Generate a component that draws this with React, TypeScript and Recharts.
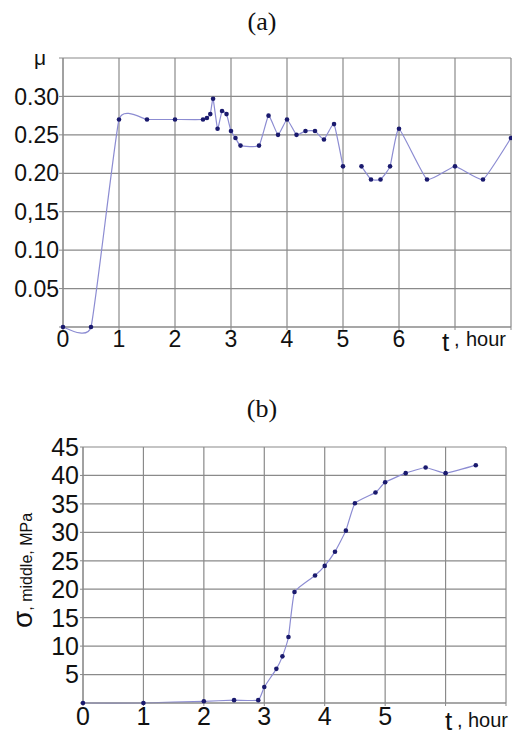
import React from "react";
import { LineChart, Line, XAxis, YAxis, CartesianGrid } from "recharts";

// ---- Chart (a): friction coefficient mu vs time ----
const muTime = [0, 0.5, 1, 1.5, 2, 2.5, 2.57, 2.63, 2.68, 2.76, 2.84, 2.92, 3.0, 3.08, 3.17, 3.5, 3.67, 3.84, 4.0, 4.17, 4.33, 4.5, 4.66, 4.84, 5.0, 5.17, 5.33, 5.5, 5.67, 5.84, 6.0, 6.5, 7.0, 7.5, 8.0];
const muValues: (number | null)[] = [0, 0, 0.27, 0.27, 0.27, 0.27, 0.272, 0.277, 0.297, 0.258, 0.281, 0.277, 0.255, 0.246, 0.236, 0.236, 0.275, 0.25, 0.27, 0.25, 0.255, 0.255, 0.244, 0.264, 0.209, null, 0.209, 0.192, 0.192, 0.209, 0.258, 0.192, 0.209, 0.192, 0.246];
const muXTicks = [0, 1, 2, 3, 4, 5, 6, 7, 8];
const muXLabels = ["0", "1", "2", "3", "4", "5", "6", "", ""];
const muYTicks = [0, 0.05, 0.1, 0.15, 0.2, 0.25, 0.3, 0.35];
const muYLabels = ["", "0.05", "0.10", "0,15", "0.20", "0.25", "0.30", ""];

// ---- Chart (b): middle stress vs time ----
const sigmaTime = [0, 1, 2, 2.5, 2.9, 3.0, 3.2, 3.3, 3.4, 3.5, 3.84, 4.0, 4.17, 4.35, 4.5, 4.84, 5.0, 5.34, 5.67, 6.0, 6.5];
const sigmaValues = [0, 0, 0.3, 0.5, 0.5, 2.8, 6.0, 8.2, 11.6, 19.5, 22.4, 24.1, 26.6, 30.3, 35.1, 37.0, 38.8, 40.4, 41.4, 40.4, 41.8];
const sigmaXTicks = [0, 1, 2, 3, 4, 5, 6, 7];
const sigmaXLabels = ["0", "1", "2", "3", "4", "5", "", ""];
const sigmaYTicks = [0, 5, 10, 15, 20, 25, 30, 35, 40, 45];
const sigmaYLabels = ["", "5", "10", "15", "20", "25", "30", "35", "40", "45"];

const muData = muTime.map((t, i) => ({ t, v: muValues[i] }));
const sigmaData = sigmaTime.map((t, i) => ({ t, v: sigmaValues[i] }));

const GRID = "#8a8a8a";
const LINE = "#8c8cd2";
const DOT = "#1a1a6e";
const SANS = "'Liberation Sans', Arial, sans-serif";
const SERIF = "'Liberation Serif', 'Times New Roman', serif";

const labelOf = (ticks: number[], labels: string[]) => (v: number) => {
  const i = ticks.findIndex((t) => Math.abs(t - v) < 1e-9);
  return i >= 0 ? labels[i] : "";
};

// Low-tension cardinal curve factory (d3 curve interface): smooth lines through the points
const SMOOTH = 0.4;
const smoothCurve = (context: any) => {
  let pts: [number, number][] = [];
  return {
    areaStart() {},
    areaEnd() {},
    lineStart() {
      pts = [];
    },
    point(x: number, y: number) {
      pts.push([+x, +y]);
    },
    lineEnd() {
      const n = pts.length;
      if (!n) return;
      context.moveTo(pts[0][0], pts[0][1]);
      if (n === 1) {
        context.lineTo(pts[0][0], pts[0][1]);
        return;
      }
      for (let i = 0; i < n - 1; i++) {
        const p0 = pts[Math.max(i - 1, 0)];
        const p1 = pts[i];
        const p2 = pts[i + 1];
        const p3 = pts[Math.min(i + 2, n - 1)];
        const c1x = p1[0] + ((p2[0] - p0[0]) / 6) * SMOOTH;
        const c1y = p1[1] + ((p2[1] - p0[1]) / 6) * SMOOTH;
        const c2x = p2[0] - ((p3[0] - p1[0]) / 6) * SMOOTH;
        const c2y = p2[1] - ((p3[1] - p1[1]) / 6) * SMOOTH;
        context.bezierCurveTo(c1x, c1y, c2x, c2y, p2[0], p2[1]);
      }
    },
  };
};

export default function App() {
  return (
    <div style={{ position: "absolute", left: 0, top: 0, width: 512, height: 735, background: "#fff" }}>
      <div style={{ position: "absolute", left: 0, top: 0 }}>
        <LineChart width={512} height={360} data={muData} margin={{ top: 58, right: 1, left: 0, bottom: 0 }}>
          <CartesianGrid stroke={GRID} strokeWidth={1.2} />
          <XAxis
            dataKey="t"
            type="number"
            domain={[0, 8]}
            ticks={muXTicks}
            tickFormatter={labelOf(muXTicks, muXLabels)}
            interval={0}
            height={33}
            stroke={GRID}
            tickSize={3}
            tickMargin={1}
            tick={{ fill: "#111", fontSize: 23, fontFamily: SANS }}
          />
          <YAxis
            type="number"
            domain={[0, 0.35]}
            ticks={muYTicks}
            tickFormatter={labelOf(muYTicks, muYLabels)}
            interval={0}
            width={63}
            stroke={GRID}
            tickSize={4}
            tickMargin={0}
            tick={{ fill: "#111", fontSize: 23, fontFamily: SANS }}
          />
          <Line
            dataKey="v"
            type={smoothCurve as any}
            stroke={LINE}
            strokeWidth={1.2}
            dot={{ r: 2.3, fill: DOT, stroke: "none" }}
            connectNulls={false}
            isAnimationActive={false}
          />
        </LineChart>
      </div>
      <div style={{ position: "absolute", left: 0, top: 380 }}>
        <LineChart width={512} height={355} data={sigmaData} margin={{ top: 67, right: 6, left: 0, bottom: 0 }}>
          <CartesianGrid stroke={GRID} strokeWidth={1.2} />
          <XAxis
            dataKey="t"
            type="number"
            domain={[0, 7]}
            ticks={sigmaXTicks}
            tickFormatter={labelOf(sigmaXTicks, sigmaXLabels)}
            interval={0}
            height={32}
            stroke={GRID}
            tickSize={3}
            tickMargin={1}
            tick={{ fill: "#111", fontSize: 25, fontFamily: SANS }}
          />
          <YAxis
            type="number"
            domain={[0, 45]}
            ticks={sigmaYTicks}
            tickFormatter={labelOf(sigmaYTicks, sigmaYLabels)}
            interval={0}
            width={83}
            stroke={GRID}
            tickSize={3}
            tickMargin={1}
            tick={{ fill: "#111", fontSize: 25, fontFamily: SANS }}
          />
          <Line
            dataKey="v"
            type={smoothCurve as any}
            stroke={LINE}
            strokeWidth={1.2}
            dot={{ r: 2.3, fill: DOT, stroke: "none" }}
            isAnimationActive={false}
          />
        </LineChart>
      </div>
      <svg width={512} height={735} style={{ position: "absolute", left: 0, top: 0, pointerEvents: "none" }}>
        <text x={262} y={30} textAnchor="middle" fontFamily={SERIF} fontSize={26} fill="#111">(a)</text>
        <text x={262} y={417} textAnchor="middle" fontFamily={SERIF} fontSize={26} fill="#111">(b)</text>
        <text x={40} y={65} textAnchor="middle" fontFamily={SANS} fontSize={21} fill="#111">μ</text>
        <text x={442} y={351} fontFamily={SANS} fontSize={26} fill="#111">t</text>
        <text x={454} y={346} fontFamily={SANS} fontSize={20} fill="#111">,</text>
        <text x={466} y={346} fontFamily={SANS} fontSize={20} fill="#111">hour</text>
        <text x={445} y={730} fontFamily={SANS} fontSize={26} fill="#111">t</text>
        <text x={457} y={727} fontFamily={SANS} fontSize={20} fill="#111">,</text>
        <text x={468} y={727} fontFamily={SANS} fontSize={20} fill="#111">hour</text>
        <text x={32} y={628} transform="rotate(-90 32 628)" fontFamily={SANS} fill="#111">
          <tspan fontSize={28}>σ</tspan>
          <tspan fontSize={16}>, middle, MPa</tspan>
        </text>
      </svg>
    </div>
  );
}
